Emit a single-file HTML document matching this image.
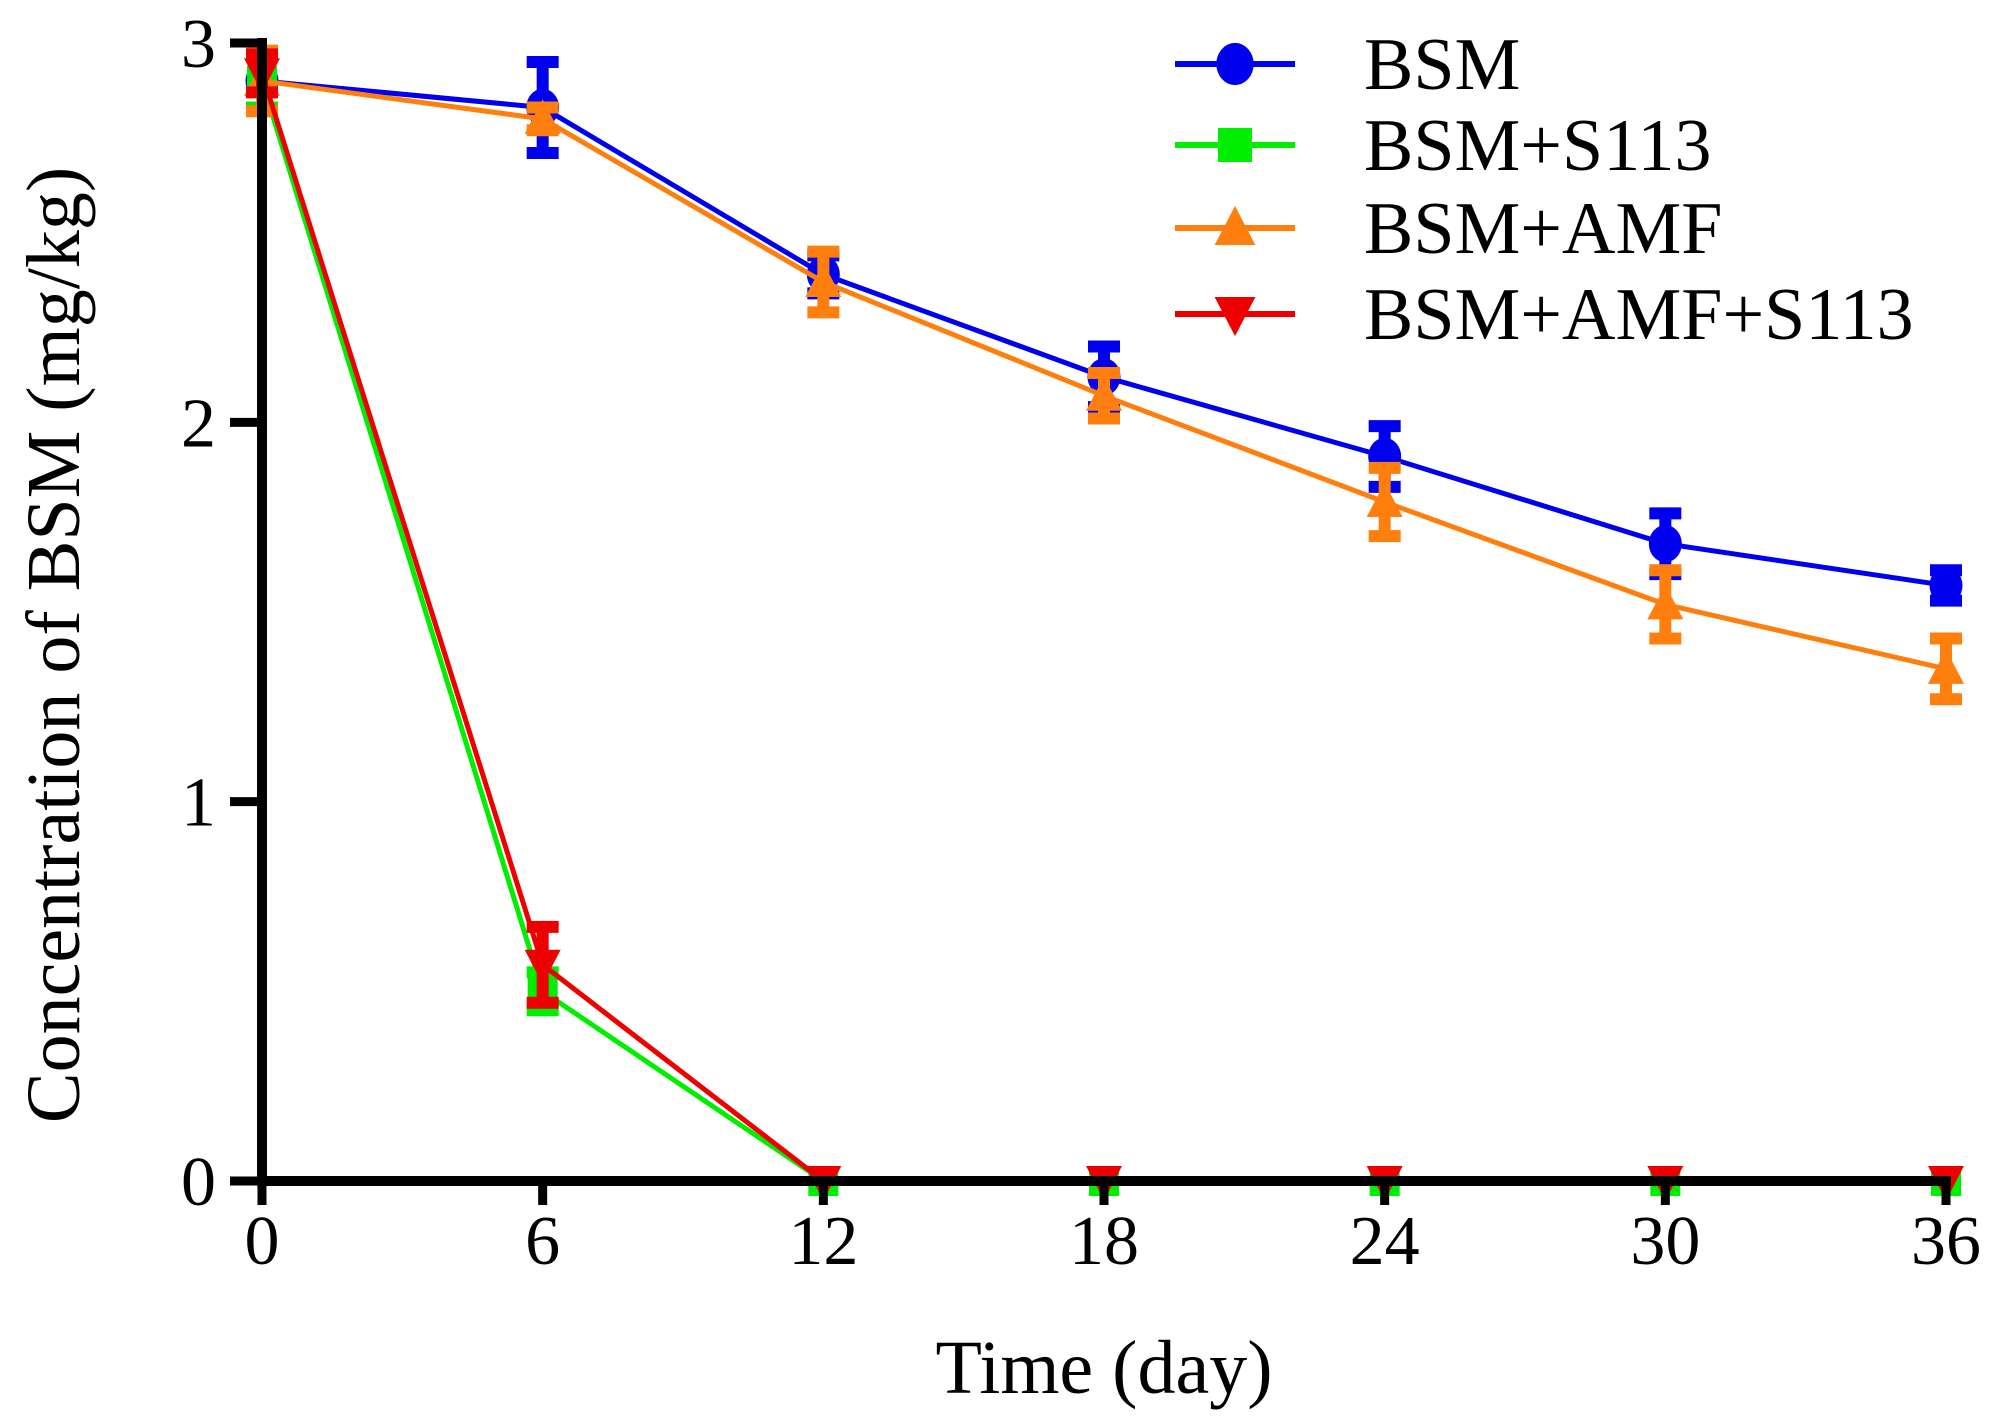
<!DOCTYPE html>
<html><head><meta charset="utf-8"><style>
html,body{margin:0;padding:0;background:#fff;}
svg{display:block;font-family:"Liberation Serif",serif;}
</style></head><body>
<svg id="chart" width="1995" height="1423" viewBox="0 0 1995 1423" xmlns="http://www.w3.org/2000/svg">
<g id="lines"></g>
<g id="axes"></g>
<g id="legend"></g>
</svg>
<script>
const days = [0, 6, 12, 18, 24, 30, 36];
const xTicks = [0, 6, 12, 18, 24, 30, 36];
const yTicks = [0, 1, 2, 3];
const seriesNames = ["BSM", "BSM+S113", "BSM+AMF", "BSM+AMF+S113"];
const bsm = [2.9, 2.83, 2.39, 2.12, 1.91, 1.68, 1.57];
const bsmErr = [0.07, 0.12, 0.05, 0.08, 0.08, 0.08, 0.04];
const s113 = [2.9, 0.5, 0, 0, 0, 0, 0];
const s113Err = [0.07, 0.05, 0, 0, 0, 0, 0];
const amf = [2.9, 2.8, 2.37, 2.07, 1.79, 1.52, 1.35];
const amfErr = [0.08, 0.03, 0.08, 0.06, 0.09, 0.09, 0.08];
const amfS113 = [2.92, 0.57, 0, 0, 0, 0, 0];
const amfS113Err = [0.05, 0.1, 0, 0, 0, 0, 0];

const NS = "http://www.w3.org/2000/svg";
const X0 = 262, X1 = 1946, Y0 = 1181, Y1 = 43;
function xs(d){ return X0 + (d - 0) / 36 * (X1 - X0); }
function ys(v){ return Y0 - v / 3 * (Y0 - Y1); }
function mk(tag, attrs, parent){
  const e = document.createElementNS(NS, tag);
  for (const k in attrs) e.setAttribute(k, attrs[k]);
  parent.appendChild(e);
  return e;
}
const lines = document.getElementById('lines');
const axes = document.getElementById('axes');
const legend = document.getElementById('legend');

function marker(shape, cx, cy, color, parent, s){
  let el;
  if (shape === 'circle') el = mk('ellipse', {cx: cx, cy: cy, rx: s*0.55, ry: s*0.62, fill: color}, parent);
  else if (shape === 'square') el = mk('rect', {x: cx - s*0.5, y: cy - s*0.5, width: s, height: s, fill: color}, parent);
  else if (shape === 'up') el = mk('polygon', {points: `${cx},${cy - s*0.65} ${cx - s*0.6},${cy + s*0.5} ${cx + s*0.6},${cy + s*0.5}`, fill: color}, parent);
  else el = mk('polygon', {points: `${cx},${cy + s*0.65} ${cx - s*0.6},${cy - s*0.5} ${cx + s*0.6},${cy - s*0.5}`, fill: color}, parent);
  return el;
}

const series = [
  {name: seriesNames[0], vals: bsm, err: bsmErr, color: '#0000ee', shape: 'circle', key: 'bsm'},
  {name: seriesNames[1], vals: s113, err: s113Err, color: '#00ee00', shape: 'square', key: 'bsm-s113'},
  {name: seriesNames[2], vals: amf, err: amfErr, color: '#ff7f0e', shape: 'up', key: 'bsm-amf'},
  {name: seriesNames[3], vals: amfS113, err: amfS113Err, color: '#ee0000', shape: 'down', key: 'bsm-amf-s113'}
];

// axes
const yAxis = mk('line', {x1: X0, y1: Y1 - 5, x2: X0, y2: Y0 + 5, stroke: '#000', 'stroke-width': 10}, axes);


const xAxis = mk('line', {x1: X0 - 5, y1: Y0, x2: X1 + 5, y2: Y0, stroke: '#000', 'stroke-width': 10}, axes);


yTicks.forEach(v => {
  const t = mk('line', {x1: X0 - 32, y1: ys(v), x2: X0, y2: ys(v), stroke: '#000', 'stroke-width': 9}, axes);
  
  
  const l = mk('text', {x: X0 - 46, y: ys(v) + 24, 'font-size': 70, 'text-anchor': 'end'}, axes);
  l.textContent = v;
  
  
});
xTicks.forEach(d => {
  const t = mk('line', {x1: xs(d), y1: Y0, x2: xs(d), y2: Y0 + 24, stroke: '#000', 'stroke-width': 9}, axes);
  
  
  const l = mk('text', {x: xs(d), y: 1264, 'font-size': 70, 'text-anchor': 'middle'}, axes);
  l.textContent = d;
  
  
});
const xt = mk('text', {x: 1104, y: 1393, 'font-size': 76, 'text-anchor': 'middle'}, axes);
xt.textContent = 'Time (day)';


const yt = mk('text', {x: 0, y: 0, 'font-size': 76, 'text-anchor': 'middle', transform: 'translate(79,645) rotate(-90)'}, axes);
yt.textContent = 'Concentration of BSM (mg/kg)';



// series
series.forEach(s => {
  const g = mk('g', {}, lines);
  
  
  const pts = days.map((d, i) => `${xs(d)},${ys(s.vals[i])}`).join(' ');
  const pl = mk('polyline', {points: pts, fill: 'none', stroke: s.color, 'stroke-width': 5}, g);
  
  
  days.forEach((d, i) => {
    const e = s.err[i];
    if (e > 0) {
      const cx = xs(d), top = ys(s.vals[i] + e), bot = ys(s.vals[i] - e);
      const eb = mk('path', {d: `M${cx},${top} L${cx},${bot} M${cx-16},${top} L${cx+16},${top} M${cx-16},${bot} L${cx+16},${bot}`, stroke: s.color, 'stroke-width': 12, fill: 'none'}, g);
      
      
    }
    const m = marker(s.shape, xs(d), ys(s.vals[i]), s.color, g, 30);
    
    
  });
});

// legend
const rowsY = [64, 145, 228, 314];
series.forEach((s, i) => {
  const g = mk('g', {}, legend);
  
  
  const ly = rowsY[i];
  mk('line', {x1: 1175, y1: ly, x2: 1295, y2: ly, stroke: s.color, 'stroke-width': 6}, g);
  marker(s.shape, 1235, ly, s.color, g, 34);
  const t = mk('text', {x: 1364, y: ly + 25, 'font-size': 74}, g);
  t.textContent = s.name;
  
  
});
</script>
</body></html>
